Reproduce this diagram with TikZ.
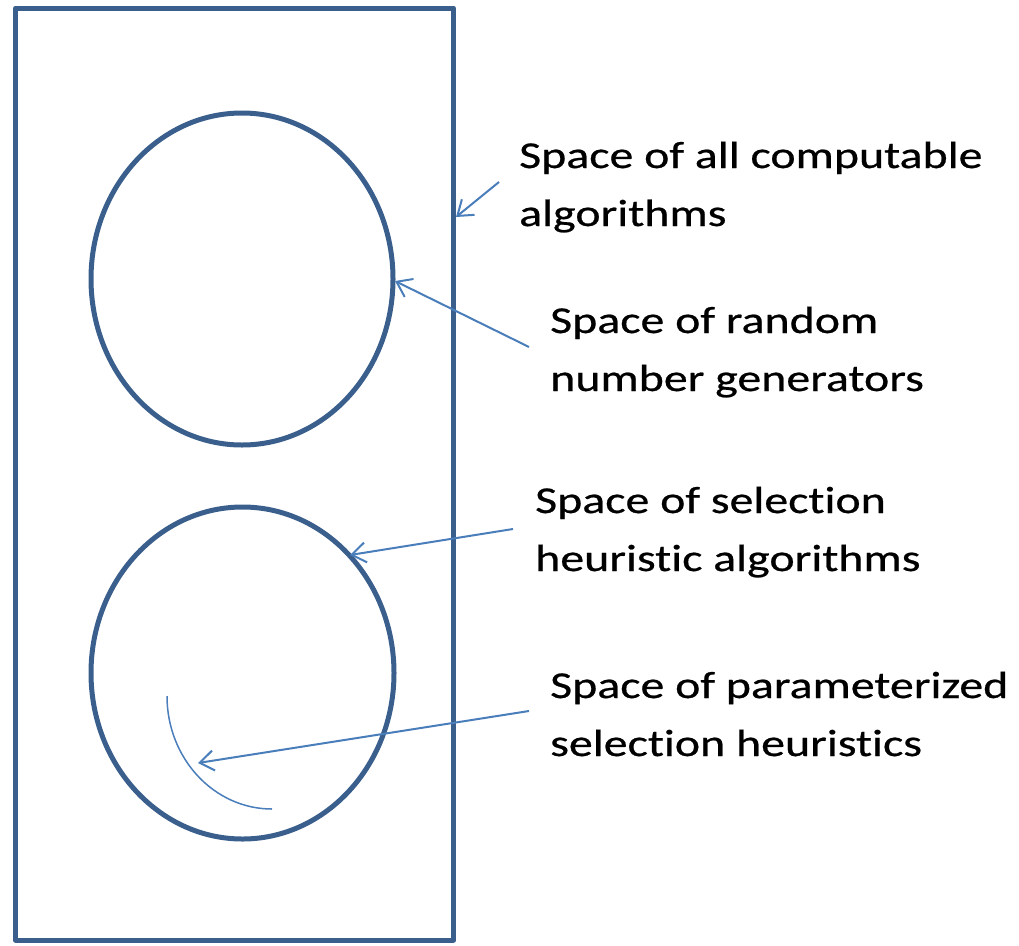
\documentclass[tikz,border=0pt]{standalone}
\usepackage{fontspec}
\setmainfont{Carlito}[FakeStretch=1.26, Ligatures={NoCommon,NoContextual,NoRare}, FakeBold=0.6]
\usetikzlibrary{arrows.meta,shapes.geometric}
\definecolor{shapeblue}{HTML}{3A5F8C}
\definecolor{arrowblue}{HTML}{4A7EBB}
\tikzset{
  frame/.style={draw=shapeblue, line width=5pt, line join=round},
  pointer/.style={draw=arrowblue, line width=2pt, -{Straight Barb[length=14pt,width=20pt]}},
  label/.style={anchor=base west, inner sep=0pt, align=left, font=\fontsize{38}{58}\selectfont},
}
\begin{document}
\begin{tikzpicture}[x=1pt, y=-1pt]
\useasboundingbox (0,0) rectangle (1019,945);
\draw[frame] (15.5,8) rectangle (453.5,940);
\node[frame, ellipse, minimum width=302pt, minimum height=332pt, inner sep=0pt] (top) at (242,279) {};
\node[frame, ellipse, minimum width=303pt, minimum height=332pt, inner sep=0pt] (bot) at (242.5,673) {};
\draw[arrowblue, line width=1.5pt] (167,696) arc[start angle=180, end angle=270, x radius=105, y radius=-113];
\node[label] (t1) at (519,226) {Space of all computable\\algorithms};
\node[label] (t2) at (550,391) {Space of random\\number generators};
\node[label] (t3) at (535,571) {Space of selection\\heuristic algorithms};
\node[label] (t4) at (550,756) {Space of parameterized\\selection heuristics};
\coordinate (s1) at (499,182); \coordinate (e1) at (456,217);
\coordinate (s2) at (529,347); \coordinate (e2) at (395,281);
\coordinate (s3) at (513,529); \coordinate (e3) at (350,555);
\coordinate (s4) at (529,711); \coordinate (e4) at (198,763);
\draw[pointer] (s1) -- (e1);
\draw[pointer] (s2) -- (e2);
\draw[pointer] (s3) -- (e3);
\draw[pointer] (s4) -- (e4);
\end{tikzpicture}
\end{document}
